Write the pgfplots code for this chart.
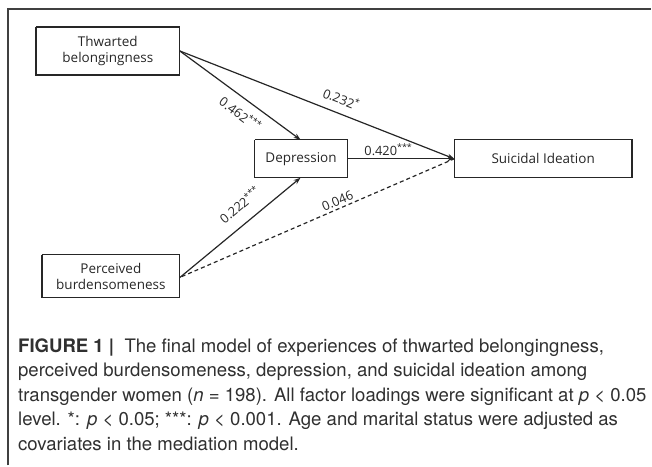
\documentclass[border=0pt]{standalone}
\usepackage{fontspec}
\setmainfont{TeX Gyre Heros}
\newfontfamily\diag{Open Sans}
\usepackage{pgfplots}
\pgfplotsset{compat=1.18}
\usetikzlibrary{arrows.meta}
\definecolor{ln}{HTML}{262626}
\definecolor{cap}{HTML}{303030}
\begin{document}
\begin{tikzpicture}
\begin{axis}[width=652pt,height=466pt,scale only axis,xmin=0,xmax=652,ymin=0,ymax=466,
  y dir=reverse,hide axis,clip=false]
\path (axis cs:0,0) rectangle (axis cs:652,466);
% frame
\addplot[draw=black!75,line width=2pt] coordinates {(8,466) (8,9) (652,9)};
% boxes
\addplot[ln,line width=1.4pt,line join=miter] coordinates {(36,27) (180,27) (180,75) (36,75) (36,27)};
\addplot[ln,line width=1.4pt,line join=miter] coordinates {(255,140) (348,140) (348,178) (255,178) (255,140)};
\addplot[ln,line width=1.4pt,line join=miter] coordinates {(455,140) (633,140) (633,178) (455,178) (455,140)};
\addplot[ln,line width=1.4pt,line join=miter] coordinates {(42,255) (180,255) (180,298) (42,298) (42,255)};
% arrows
\addplot[ln,line width=1.2pt,-{Stealth[length=7pt,width=5pt]}] coordinates {(180,51) (301,140)};
\addplot[ln,line width=1.2pt,-{Stealth[length=7pt,width=5pt]}] coordinates {(180,51) (455,159)};
\addplot[ln,line width=1.2pt,-{Stealth[length=7pt,width=5pt]}] coordinates {(348,159) (455,159)};
\addplot[ln,line width=1.2pt,-{Stealth[length=7pt,width=5pt]}] coordinates {(180,278) (301,178)};
\addplot[ln,line width=1.2pt,dash pattern=on 4pt off 3pt] coordinates {(182,277) (455,159)};
% box texts
\node[font=\diag\fontsize{13.5}{16.5}\selectfont,align=center,text=ln] at (axis cs:108,51) {Thwarted\\belongingness};
\node[font=\diag\fontsize{13.5}{16.5}\selectfont,align=center,text=ln] at (axis cs:301.5,159) {Depression};
\node[font=\diag\fontsize{13.5}{16.5}\selectfont,align=center,text=ln] at (axis cs:544,159) {Suicidal Ideation};
\node[font=\diag\fontsize{13.5}{16.5}\selectfont,align=center,text=ln] at (axis cs:111,277) {Perceived\\burdensomeness};
% path labels
\node[font=\diag\fontsize{12.8}{14}\selectfont,text=ln,rotate=-36.6,inner sep=1pt] at (axis cs:241,114) {0.462\textsuperscript{***}};
\node[font=\diag\fontsize{12.8}{14}\selectfont,text=ln,rotate=-21.4,inner sep=1pt] at (axis cs:342,99) {0.232\textsuperscript{*}};
\node[font=\diag\fontsize{12.8}{14}\selectfont,text=ln,inner sep=1pt] at (axis cs:389,150) {0.420\textsuperscript{***}};
\node[font=\diag\fontsize{12.8}{14}\selectfont,text=ln,rotate=39.8,inner sep=1pt] at (axis cs:240,205) {0.222\textsuperscript{***}};
\node[font=\diag\fontsize{12.8}{14}\selectfont,text=ln,rotate=23.4,inner sep=1pt] at (axis cs:338,201) {0.046};
% caption
\node[anchor=north west,align=left,inner sep=0pt,text=cap,font=\fontsize{18.6}{24.5}\selectfont] at (axis cs:18,339)
{\textbf{FIGURE 1 |}\ \ The final model of experiences of thwarted belongingness,\\
perceived burdensomeness, depression, and suicidal ideation among\\
transgender women (\textit{n} = 198). All factor loadings were significant at \textit{p} < 0.05\\
level. *: \textit{p} < 0.05; ***: \textit{p} < 0.001. Age and marital status were adjusted as\\
covariates in the mediation model.};
\end{axis}
\end{tikzpicture}
\end{document}
